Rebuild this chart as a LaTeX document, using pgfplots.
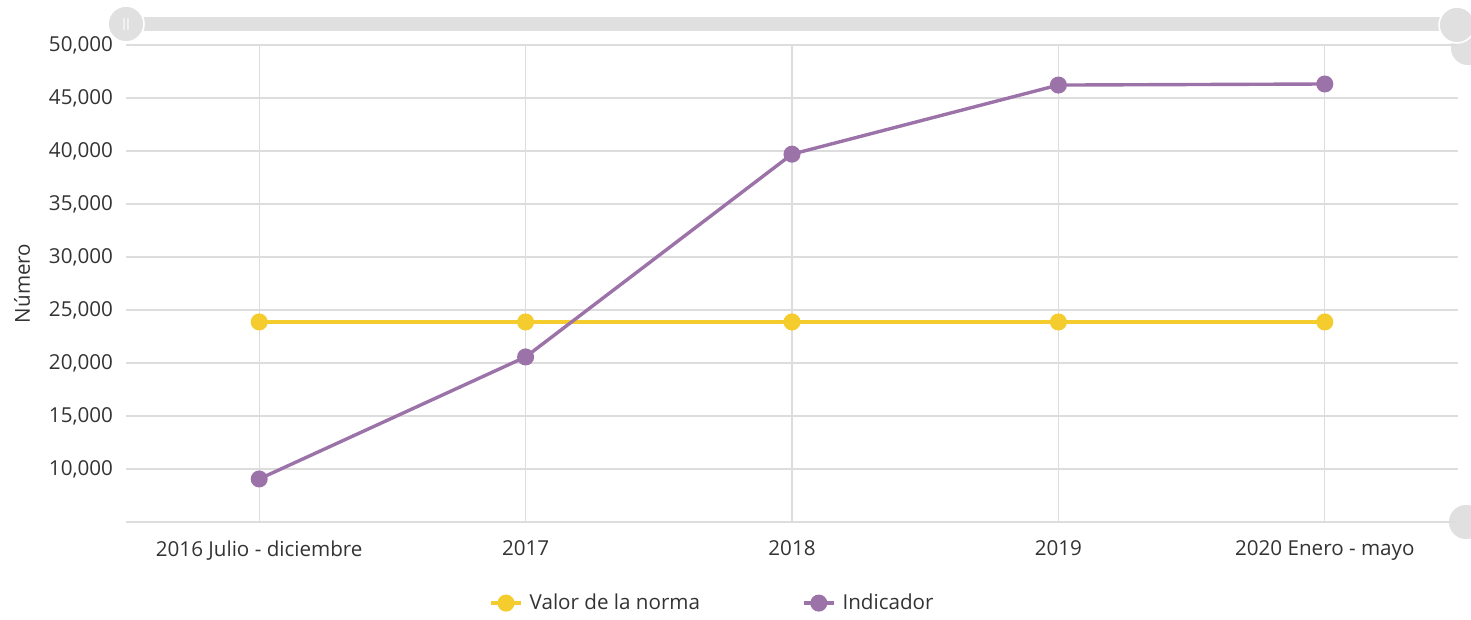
\documentclass[border=0pt]{standalone}
\usepackage{fontspec}
\setmainfont{Open Sans}
\usepackage{pgfplots}
\pgfplotsset{compat=1.18}
\definecolor{norma}{HTML}{F4CC2E}
\definecolor{indic}{HTML}{9C73A8}
\definecolor{gridc}{HTML}{DDDDDD}
\definecolor{txt}{HTML}{333333}
\definecolor{scroll}{HTML}{E0E0E0}
\begin{document}
\begin{tikzpicture}
\path[use as bounding box] (0pt,0pt) rectangle (735.5pt,310pt);
\begin{scope}
\clip (0pt,0pt) rectangle (735.5pt,310pt);
\fill[scroll, draw=white, line width=0.8pt] (734pt,286pt) circle (9pt);
\fill[scroll, draw=white, line width=0.8pt] (733pt,49pt) circle (9pt);
\fill[scroll] (63pt,294.5pt) rectangle (729pt,301.5pt);
\fill[scroll, draw=white, line width=0.8pt] (63pt,298pt) circle (9pt);
\draw[white!94!black, line width=0.6pt] (62pt,295pt) -- (62pt,301pt) (64pt,295pt) -- (64pt,301pt);
\fill[scroll, draw=white, line width=0.8pt] (728.5pt,297.5pt) circle (9pt);
\end{scope}
\begin{axis}[
  at={(63pt,49pt)}, anchor=south west, scale only axis,
  width=666pt, height=238.5pt,
  xmin=-0.5, xmax=4.5, ymin=5000, ymax=50000,
  xtick={0,1,2,3,4},
  xticklabels={2016 Julio - diciembre,2017,2018,2019,2020 Enero - mayo},
  ytick={10000,15000,...,50000},
  extra y ticks={5000}, extra y tick labels={},
  grid=major, grid style={gridc, line width=0.6pt},
  axis line style={draw=none},
  major tick length=0pt,
  tick label style={font=\fontsize{10.3}{12}\selectfont, text=txt},
  /pgf/number format/1000 sep={,},
  /pgf/number format/assume math mode=true,
  xticklabel style={yshift=-6pt},
  yticklabel style={xshift=-3pt},
  scaled y ticks=false,
  ylabel={Número},
  ylabel style={at={(axis description cs:-0.078,0.5)}, anchor=center, font=\fontsize{10.3}{12}\selectfont, text=txt},
  legend columns=2,
  legend style={at={(axis description cs:0.441,-0.17)}, anchor=center, draw=none, fill=none,
    font=\fontsize{10.3}{12}\selectfont, text=txt,
    /tikz/every odd column/.append style={column sep=1.5pt},
    /tikz/every even column/.append style={column sep=49pt}},
  legend image code/.code={
    \draw[#1, mark=none] (0pt,0pt) -- (15pt,0pt);
    \draw[#1, only marks] plot coordinates {(7.5pt,0pt)};
  },
]
\addplot[norma, line width=1.7pt, mark=*, mark size=3.4pt] coordinates {
(0,23870) (1,23870) (2,23870) (3,23870) (4,23870)};
\addlegendentry{Valor de la norma}
\addplot[indic, line width=1.7pt, mark=*, mark size=3.4pt] coordinates {
(0,9060) (1,20570) (2,39700) (3,46220) (4,46320)};
\addlegendentry{Indicador}
\end{axis}
\end{tikzpicture}
\end{document}
